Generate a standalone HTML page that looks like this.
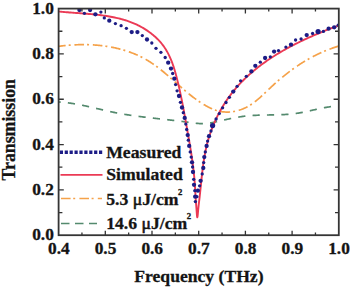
<!DOCTYPE html>
<html><head><meta charset="utf-8"><style>
html,body{margin:0;padding:0;background:#fff;width:350px;height:288px;overflow:hidden}
svg{display:block}
</style></head><body>
<svg width="350" height="288" viewBox="0 0 350 288">
<defs><clipPath id="c"><rect x="58.6" y="8.6" width="280.2" height="226.6"/></clipPath></defs>
<rect width="350" height="288" fill="#fff"/>
<g clip-path="url(#c)" fill="none" stroke-linejoin="round">
<path d="M58.50,101.97 L59.21,102.01 L59.93,102.05 L60.64,102.10 L61.35,102.15 L62.06,102.21 L62.76,102.27 L63.47,102.34 L64.18,102.40 L64.89,102.48 L65.59,102.55 L66.30,102.63 L67.00,102.72 L67.71,102.80 L68.41,102.89 L69.11,102.99 L69.82,103.08 L70.52,103.18 L71.22,103.29 L71.92,103.39 L72.62,103.50 L73.32,103.61 L74.02,103.73 L74.72,103.85 L75.42,103.96 L76.12,104.09 L76.82,104.21 L77.52,104.34 L78.21,104.47 L78.91,104.60 L79.61,104.73 L80.30,104.87 L81.00,105.01 L81.70,105.15 L82.39,105.29 L83.09,105.43 L83.78,105.58 L84.48,105.73 L85.17,105.87 L85.86,106.02 L86.56,106.17 L87.25,106.33 L87.95,106.48 L88.64,106.64 L89.33,106.79 L90.02,106.95 L90.72,107.11 L91.41,107.26 L92.10,107.42 L92.80,107.58 L93.49,107.74 L94.18,107.90 L94.87,108.07 L95.56,108.23 L96.26,108.39 L96.95,108.55 L97.64,108.71 L98.33,108.88 L99.03,109.04 L99.72,109.20 L100.41,109.36 L101.10,109.52 L101.79,109.69 L102.49,109.85 L103.18,110.01 L103.87,110.17 L104.56,110.33 L105.26,110.48 L105.95,110.64 L106.64,110.80 L107.34,110.95 L108.03,111.11 L108.72,111.26 L109.42,111.41 L110.11,111.56 L110.80,111.71 L111.50,111.86 L112.19,112.01 L112.89,112.15 L113.58,112.30 L114.28,112.44 L114.98,112.58 L115.67,112.72 L116.37,112.85 L117.06,112.99 L117.76,113.12 L118.46,113.25 L119.16,113.38 L119.85,113.51 L120.55,113.63 L121.25,113.76 L121.95,113.88 L122.65,114.00 L123.35,114.12 L124.05,114.24 L124.75,114.35 L125.45,114.47 L126.15,114.58 L126.85,114.69 L127.55,114.81 L128.25,114.91 L128.95,115.02 L129.65,115.13 L130.35,115.23 L131.06,115.34 L131.76,115.44 L132.46,115.54 L133.16,115.64 L133.86,115.74 L134.57,115.84 L135.27,115.94 L135.97,116.04 L136.68,116.13 L137.38,116.23 L138.08,116.32 L138.79,116.41 L139.49,116.50 L140.20,116.60 L140.90,116.69 L141.61,116.77 L142.31,116.86 L143.02,116.95 L143.72,117.04 L144.43,117.12 L145.13,117.21 L145.84,117.29 L146.54,117.38 L147.25,117.46 L147.95,117.55 L148.66,117.63 L149.36,117.71 L150.07,117.79 L150.78,117.87 L151.48,117.95 L152.19,118.03 L152.89,118.11 L153.60,118.19 L154.31,118.27 L155.01,118.35 L155.72,118.43 L156.43,118.51 L157.13,118.59 L157.84,118.67 L158.55,118.74 L159.25,118.82 L159.96,118.90 L160.67,118.98 L161.38,119.06 L162.08,119.13 L162.79,119.21 L163.50,119.29 L164.20,119.37 L164.91,119.45 L165.62,119.52 L166.33,119.60 L167.03,119.68 L167.74,119.76 L168.45,119.84 L169.15,119.92 L169.86,120.00 L170.57,120.08 L171.27,120.16 L171.98,120.24 L172.69,120.32 L173.40,120.40 L174.10,120.49 L174.81,120.57 L175.52,120.65 L176.22,120.74 L176.93,120.82 L177.64,120.90 L178.34,120.99 L179.05,121.08 L179.76,121.16 L180.46,121.25 L181.17,121.34 L181.87,121.43 L182.58,121.52 L183.29,121.61 L183.99,121.70 L184.70,121.79 L185.40,121.89 L186.11,121.98 L186.81,122.08 L187.52,122.18 L188.22,122.27 L188.93,122.37 L189.63,122.47 L190.34,122.57 L191.04,122.66 L191.75,122.76 L192.45,122.85 L193.16,122.94 L193.86,123.03 L194.56,123.11 L195.27,123.19 L195.97,123.27 L196.67,123.34 L197.37,123.40 L198.08,123.46 L198.78,123.51 L199.48,123.56 L200.18,123.60 L200.88,123.63 L201.58,123.65 L202.28,123.66 L202.98,123.66 L203.68,123.65 L204.38,123.63 L205.08,123.61 L205.78,123.56 L206.47,123.51 L207.17,123.45 L207.87,123.37 L208.57,123.28 L209.26,123.18 L209.96,123.07 L210.65,122.95 L211.35,122.82 L212.04,122.69 L212.74,122.55 L213.43,122.40 L214.13,122.25 L214.82,122.10 L215.52,121.94 L216.21,121.79 L216.91,121.63 L217.60,121.47 L218.29,121.31 L218.99,121.16 L219.68,121.00 L220.38,120.84 L221.07,120.68 L221.77,120.52 L222.46,120.36 L223.15,120.21 L223.85,120.05 L224.54,119.89 L225.24,119.74 L225.93,119.58 L226.63,119.43 L227.32,119.28 L228.02,119.13 L228.71,118.98 L229.41,118.83 L230.10,118.68 L230.80,118.54 L231.50,118.39 L232.19,118.25 L232.89,118.11 L233.59,117.98 L234.28,117.84 L234.98,117.71 L235.68,117.58 L236.38,117.45 L237.08,117.33 L237.77,117.21 L238.47,117.09 L239.17,116.97 L239.87,116.86 L240.57,116.75 L241.27,116.65 L241.97,116.54 L242.67,116.45 L243.37,116.35 L244.08,116.26 L244.78,116.18 L245.48,116.09 L246.18,116.02 L246.89,115.94 L247.59,115.87 L248.30,115.81 L249.00,115.74 L249.71,115.69 L250.41,115.63 L251.12,115.58 L251.82,115.53 L252.53,115.48 L253.24,115.44 L253.94,115.40 L254.65,115.36 L255.36,115.33 L256.07,115.29 L256.77,115.26 L257.48,115.24 L258.19,115.21 L258.90,115.19 L259.61,115.16 L260.32,115.14 L261.03,115.12 L261.74,115.11 L262.44,115.09 L263.15,115.08 L263.86,115.06 L264.57,115.05 L265.28,115.04 L265.99,115.02 L266.71,115.01 L267.42,115.00 L268.13,114.99 L268.84,114.98 L269.55,114.97 L270.26,114.96 L270.97,114.95 L271.68,114.94 L272.39,114.93 L273.10,114.91 L273.81,114.90 L274.52,114.89 L275.23,114.87 L275.94,114.86 L276.65,114.84 L277.36,114.82 L278.07,114.80 L278.78,114.78 L279.49,114.76 L280.20,114.74 L280.91,114.71 L281.62,114.68 L282.33,114.65 L283.04,114.62 L283.75,114.58 L284.45,114.54 L285.16,114.50 L285.87,114.46 L286.58,114.41 L287.28,114.36 L287.99,114.31 L288.70,114.25 L289.41,114.19 L290.11,114.13 L290.82,114.06 L291.52,113.99 L292.23,113.92 L292.93,113.84 L293.64,113.76 L294.34,113.67 L295.05,113.58 L295.75,113.48 L296.45,113.38 L297.15,113.28 L297.86,113.17 L298.56,113.05 L299.26,112.93 L299.96,112.81 L300.66,112.69 L301.36,112.56 L302.06,112.42 L302.76,112.29 L303.46,112.15 L304.16,112.01 L304.86,111.87 L305.56,111.72 L306.26,111.57 L306.96,111.42 L307.65,111.27 L308.35,111.12 L309.05,110.97 L309.75,110.81 L310.45,110.66 L311.14,110.50 L311.84,110.34 L312.54,110.19 L313.24,110.03 L313.94,109.87 L314.63,109.72 L315.33,109.56 L316.03,109.41 L316.73,109.25 L317.43,109.10 L318.12,108.95 L318.82,108.80 L319.52,108.65 L320.22,108.50 L320.92,108.36 L321.62,108.22 L322.32,108.08 L323.02,107.94 L323.72,107.81 L324.42,107.68 L325.12,107.55 L325.82,107.43 L326.52,107.31 L327.22,107.19 L327.92,107.08 L328.62,106.97 L329.33,106.87 L330.03,106.77 L330.73,106.68 L331.44,106.59 L332.14,106.51 L332.85,106.43 L333.55,106.36 L334.26,106.30 L334.96,106.24 L335.67,106.18 L336.38,106.14 L337.08,106.10 L337.79,106.07 L338.50,106.04" stroke="#548a6e" stroke-width="1.7" stroke-dasharray="7.2 7.2" stroke-dashoffset="5"/>
<path d="M58.62,46.35 L59.40,46.25 L60.17,46.14 L60.95,46.04 L61.73,45.95 L62.51,45.86 L63.29,45.77 L64.08,45.68 L64.86,45.60 L65.65,45.52 L66.44,45.44 L67.23,45.37 L68.02,45.30 L68.81,45.23 L69.60,45.17 L70.40,45.11 L71.19,45.05 L71.99,45.00 L72.79,44.95 L73.59,44.90 L74.38,44.86 L75.18,44.82 L75.99,44.79 L76.79,44.76 L77.59,44.73 L78.39,44.70 L79.20,44.68 L80.00,44.67 L80.81,44.65 L81.61,44.64 L82.42,44.64 L83.22,44.63 L84.03,44.64 L84.84,44.64 L85.64,44.65 L86.45,44.66 L87.26,44.68 L88.07,44.70 L88.88,44.73 L89.68,44.76 L90.49,44.79 L91.30,44.83 L92.11,44.87 L92.92,44.91 L93.72,44.96 L94.53,45.02 L95.34,45.08 L96.14,45.14 L96.95,45.20 L97.76,45.27 L98.56,45.35 L99.37,45.43 L100.17,45.51 L100.98,45.60 L101.78,45.69 L102.58,45.79 L103.38,45.89 L104.19,45.99 L104.99,46.10 L105.79,46.22 L106.58,46.34 L107.38,46.46 L108.18,46.59 L108.97,46.72 L109.77,46.86 L110.56,47.00 L111.35,47.15 L112.15,47.30 L112.94,47.45 L113.72,47.62 L114.51,47.78 L115.30,47.95 L116.08,48.13 L116.86,48.31 L117.65,48.49 L118.43,48.68 L119.20,48.88 L119.98,49.08 L120.75,49.28 L121.53,49.49 L122.30,49.70 L123.07,49.92 L123.84,50.15 L124.60,50.38 L125.36,50.61 L126.13,50.85 L126.89,51.10 L127.64,51.35 L128.40,51.60 L129.15,51.87 L129.90,52.13 L130.65,52.40 L131.40,52.68 L132.14,52.96 L132.88,53.25 L133.62,53.54 L134.36,53.84 L135.09,54.15 L135.82,54.46 L136.55,54.77 L137.28,55.09 L138.00,55.42 L138.72,55.75 L139.44,56.09 L140.15,56.43 L140.86,56.78 L141.57,57.13 L142.28,57.49 L142.98,57.86 L143.68,58.23 L144.37,58.60 L145.07,58.99 L145.76,59.38 L146.44,59.77 L147.13,60.17 L147.81,60.58 L148.48,60.99 L149.16,61.41 L149.83,61.83 L150.49,62.26 L151.16,62.69 L151.82,63.13 L152.48,63.58 L153.13,64.02 L153.78,64.48 L154.44,64.94 L155.08,65.40 L155.73,65.87 L156.37,66.34 L157.01,66.81 L157.65,67.29 L158.29,67.77 L158.92,68.26 L159.55,68.75 L160.18,69.24 L160.81,69.74 L161.44,70.24 L162.06,70.74 L162.69,71.25 L163.31,71.76 L163.93,72.27 L164.55,72.78 L165.17,73.30 L165.78,73.82 L166.40,74.34 L167.01,74.86 L167.63,75.39 L168.24,75.92 L168.85,76.44 L169.46,76.97 L170.07,77.51 L170.68,78.04 L171.29,78.57 L171.90,79.11 L172.51,79.64 L173.11,80.18 L173.72,80.71 L174.33,81.25 L174.93,81.79 L175.54,82.33 L176.15,82.87 L176.76,83.40 L177.36,83.94 L177.97,84.48 L178.58,85.02 L179.19,85.55 L179.80,86.09 L180.41,86.63 L181.02,87.16 L181.63,87.69 L182.24,88.23 L182.85,88.76 L183.46,89.29 L184.08,89.81 L184.69,90.34 L185.31,90.86 L185.93,91.39 L186.55,91.91 L187.17,92.43 L187.79,92.94 L188.42,93.45 L189.04,93.97 L189.67,94.47 L190.30,94.98 L190.93,95.48 L191.56,95.98 L192.20,96.48 L192.84,96.97 L193.47,97.46 L194.12,97.94 L194.76,98.43 L195.41,98.90 L196.06,99.38 L196.71,99.85 L197.37,100.31 L198.03,100.77 L198.69,101.23 L199.36,101.68 L200.03,102.13 L200.70,102.57 L201.38,103.00 L202.06,103.43 L202.74,103.86 L203.43,104.28 L204.12,104.69 L204.82,105.10 L205.52,105.50 L206.23,105.90 L206.94,106.29 L207.65,106.67 L208.37,107.05 L209.10,107.41 L209.82,107.77 L210.56,108.11 L211.29,108.45 L212.03,108.78 L212.77,109.09 L213.52,109.39 L214.27,109.68 L215.02,109.95 L215.78,110.21 L216.54,110.45 L217.30,110.68 L218.07,110.89 L218.83,111.09 L219.60,111.26 L220.38,111.42 L221.15,111.56 L221.93,111.69 L222.71,111.79 L223.49,111.88 L224.27,111.95 L225.05,112.01 L225.83,112.04 L226.62,112.06 L227.40,112.07 L228.18,112.05 L228.97,112.03 L229.75,111.98 L230.53,111.92 L231.31,111.85 L232.09,111.75 L232.87,111.65 L233.65,111.52 L234.42,111.39 L235.19,111.24 L235.96,111.07 L236.73,110.89 L237.50,110.69 L238.26,110.48 L239.01,110.26 L239.77,110.02 L240.52,109.77 L241.26,109.51 L242.00,109.23 L242.74,108.94 L243.47,108.64 L244.20,108.32 L244.92,107.99 L245.64,107.65 L246.35,107.30 L247.05,106.93 L247.75,106.55 L248.44,106.16 L249.12,105.76 L249.80,105.35 L250.47,104.93 L251.14,104.49 L251.80,104.05 L252.45,103.60 L253.10,103.14 L253.75,102.67 L254.39,102.19 L255.02,101.70 L255.65,101.21 L256.28,100.70 L256.90,100.20 L257.52,99.68 L258.14,99.16 L258.75,98.63 L259.36,98.10 L259.97,97.56 L260.57,97.02 L261.17,96.48 L261.77,95.93 L262.37,95.38 L262.96,94.82 L263.56,94.26 L264.15,93.70 L264.74,93.14 L265.33,92.58 L265.93,92.01 L266.52,91.45 L267.11,90.88 L267.70,90.32 L268.29,89.75 L268.88,89.19 L269.47,88.63 L270.06,88.07 L270.65,87.51 L271.25,86.95 L271.84,86.40 L272.44,85.84 L273.04,85.29 L273.64,84.75 L274.24,84.20 L274.84,83.66 L275.45,83.12 L276.05,82.58 L276.66,82.04 L277.27,81.51 L277.87,80.98 L278.48,80.45 L279.10,79.93 L279.71,79.40 L280.32,78.88 L280.94,78.36 L281.56,77.85 L282.18,77.33 L282.80,76.82 L283.42,76.31 L284.04,75.81 L284.67,75.31 L285.29,74.81 L285.92,74.31 L286.55,73.81 L287.18,73.32 L287.82,72.83 L288.45,72.35 L289.09,71.86 L289.73,71.38 L290.36,70.90 L291.01,70.43 L291.65,69.96 L292.29,69.49 L292.94,69.02 L293.59,68.56 L294.24,68.10 L294.89,67.64 L295.54,67.18 L296.20,66.73 L296.85,66.28 L297.51,65.84 L298.17,65.39 L298.84,64.95 L299.50,64.52 L300.17,64.09 L300.84,63.65 L301.51,63.23 L302.18,62.80 L302.85,62.38 L303.53,61.97 L304.21,61.55 L304.89,61.14 L305.57,60.73 L306.25,60.33 L306.94,59.93 L307.63,59.53 L308.32,59.14 L309.01,58.75 L309.70,58.36 L310.40,57.98 L311.10,57.60 L311.80,57.22 L312.50,56.84 L313.21,56.47 L313.91,56.11 L314.62,55.75 L315.33,55.39 L316.05,55.03 L316.76,54.68 L317.48,54.33 L318.20,53.99 L318.92,53.64 L319.65,53.31 L320.38,52.97 L321.11,52.64 L321.84,52.32 L322.57,51.99 L323.31,51.68 L324.05,51.36 L324.79,51.05 L325.54,50.74 L326.28,50.44 L327.03,50.14 L327.78,49.84 L328.54,49.55 L329.29,49.27 L330.05,48.98 L330.81,48.70 L331.58,48.43 L332.34,48.15 L333.11,47.89 L333.88,47.62 L334.66,47.36 L335.43,47.11 L336.21,46.86 L337.00,46.61 L337.78,46.37 L338.57,46.13" stroke="#f5a24a" stroke-width="1.7" stroke-dasharray="9.6 3 2 3.8" stroke-dashoffset="2.5"/>
<path d="M58.57,11.42 L59.89,11.57 L61.22,11.70 L62.55,11.84 L63.89,11.96 L65.24,12.08 L66.59,12.20 L67.94,12.32 L69.29,12.43 L70.66,12.54 L72.02,12.64 L73.39,12.75 L74.76,12.85 L76.13,12.95 L77.51,13.06 L78.89,13.16 L80.27,13.26 L81.65,13.37 L83.03,13.47 L84.42,13.58 L85.81,13.69 L87.19,13.81 L88.58,13.93 L89.97,14.05 L91.36,14.17 L92.75,14.31 L94.13,14.44 L95.52,14.59 L96.91,14.74 L98.29,14.90 L99.68,15.06 L101.06,15.23 L102.44,15.41 L103.82,15.61 L105.19,15.81 L106.57,16.02 L107.94,16.24 L109.31,16.47 L110.67,16.71 L112.03,16.97 L113.39,17.23 L114.74,17.51 L116.09,17.81 L117.43,18.11 L118.77,18.44 L120.11,18.77 L121.43,19.13 L122.76,19.49 L124.07,19.88 L125.39,20.28 L126.69,20.70 L127.99,21.13 L129.28,21.59 L130.57,22.06 L131.84,22.55 L133.11,23.07 L134.37,23.60 L135.63,24.15 L136.87,24.73 L138.11,25.32 L139.34,25.94 L140.56,26.58 L141.76,27.24 L142.96,27.92 L144.14,28.63 L145.32,29.35 L146.48,30.10 L147.62,30.87 L148.75,31.66 L149.86,32.47 L150.96,33.30 L152.04,34.15 L153.11,35.02 L154.15,35.91 L155.18,36.82 L156.18,37.75 L157.17,38.71 L158.13,39.68 L159.07,40.67 L159.99,41.68 L160.89,42.71 L161.76,43.76 L162.61,44.83 L163.43,45.92 L164.22,47.03 L164.99,48.16 L165.73,49.30 L166.44,50.47 L167.13,51.65 L167.79,52.85 L168.43,54.07 L169.04,55.30 L169.63,56.54 L170.19,57.80 L170.74,59.07 L171.27,60.35 L171.77,61.64 L172.26,62.94 L172.73,64.25 L173.19,65.57 L173.63,66.90 L174.05,68.23 L174.47,69.57 L174.87,70.91 L175.25,72.26 L175.63,73.61 L176.00,74.96 L176.36,76.31 L176.71,77.67 L177.05,79.02 L177.39,80.37 L177.73,81.72 L178.05,83.07 L178.37,84.42 L178.69,85.77 L179.00,87.12 L179.31,88.46 L179.61,89.81 L179.90,91.15 L180.20,92.50 L180.48,93.84 L180.77,95.19 L181.05,96.53 L181.32,97.87 L181.60,99.22 L181.87,100.56 L182.13,101.90 L182.39,103.24 L182.65,104.58 L182.91,105.93 L183.17,107.27 L183.42,108.61 L183.67,109.95 L183.92,111.29 L184.16,112.64 L184.41,113.98 L184.65,115.32 L184.90,116.67 L185.14,118.01 L185.38,119.36 L185.62,120.70 L185.86,122.05 L186.10,123.39 L186.34,124.74 L186.58,126.09 L186.81,127.44 L187.05,128.79 L187.29,130.14 L187.53,131.49 L187.77,132.85 L188.01,134.20 L188.25,135.56 L188.49,136.91 L188.73,138.27 L188.96,139.63 L189.20,140.99 L189.43,142.35 L189.66,143.71 L189.89,145.07 L190.12,146.44 L190.34,147.80 L190.56,149.17 L190.78,150.53 L191.00,151.90 L191.22,153.27 L191.43,154.64 L191.63,156.01 L191.84,157.38 L192.04,158.76 L192.24,160.13 L192.43,161.51 L192.62,162.88 L192.80,164.26 L192.98,165.64 L193.15,167.02 L193.32,168.40 L193.49,169.78 L193.64,171.16 L193.80,172.55 L193.94,173.93 L194.08,175.32 L194.22,176.71 L194.35,178.10 L194.47,179.48 L194.58,180.88 L194.69,182.27 L194.79,183.66 L194.89,185.05 L194.98,186.44 L195.07,187.82 L195.15,189.20 L195.23,190.57 L195.31,191.93 L195.39,193.29 L195.47,194.63 L195.55,195.96 L195.63,197.28 L195.71,198.58 L195.80,199.86 L195.89,201.13 L195.98,202.40 L196.08,203.69 L196.18,205.03 L196.29,206.42 L196.40,207.91 L196.51,209.49 L196.63,211.20 L196.76,212.98 L196.89,214.67 L197.03,216.08 L197.17,217.02 L197.32,217.31 L197.47,216.86 L197.62,215.80 L197.78,214.32 L197.93,212.59 L198.09,210.81 L198.25,209.13 L198.41,207.58 L198.56,206.12 L198.72,204.74 L198.88,203.42 L199.03,202.15 L199.18,200.89 L199.33,199.62 L199.48,198.34 L199.63,197.05 L199.78,195.74 L199.92,194.42 L200.06,193.08 L200.21,191.73 L200.35,190.37 L200.49,189.00 L200.63,187.63 L200.78,186.24 L200.92,184.85 L201.06,183.46 L201.21,182.06 L201.35,180.65 L201.50,179.25 L201.65,177.85 L201.80,176.44 L201.95,175.04 L202.11,173.64 L202.27,172.25 L202.43,170.86 L202.59,169.47 L202.76,168.09 L202.94,166.72 L203.12,165.35 L203.30,163.98 L203.49,162.62 L203.69,161.26 L203.89,159.90 L204.11,158.55 L204.33,157.20 L204.56,155.86 L204.80,154.52 L205.05,153.18 L205.31,151.84 L205.58,150.50 L205.86,149.17 L206.16,147.84 L206.47,146.51 L206.79,145.18 L207.12,143.85 L207.47,142.52 L207.83,141.20 L208.21,139.88 L208.60,138.56 L209.00,137.24 L209.41,135.93 L209.84,134.61 L210.28,133.30 L210.74,132.00 L211.20,130.70 L211.68,129.40 L212.18,128.10 L212.68,126.81 L213.20,125.53 L213.73,124.25 L214.27,122.97 L214.83,121.70 L215.40,120.43 L215.98,119.17 L216.57,117.92 L217.17,116.67 L217.79,115.43 L218.42,114.19 L219.06,112.96 L219.71,111.74 L220.38,110.52 L221.06,109.31 L221.74,108.11 L222.44,106.92 L223.16,105.73 L223.88,104.56 L224.62,103.39 L225.36,102.22 L226.12,101.07 L226.89,99.93 L227.67,98.80 L228.47,97.67 L229.27,96.56 L230.09,95.45 L230.91,94.35 L231.75,93.27 L232.60,92.19 L233.46,91.13 L234.32,90.07 L235.20,89.02 L236.09,87.98 L236.99,86.95 L237.90,85.93 L238.82,84.92 L239.75,83.92 L240.69,82.92 L241.64,81.94 L242.59,80.97 L243.56,80.00 L244.54,79.04 L245.52,78.09 L246.51,77.15 L247.51,76.22 L248.52,75.30 L249.54,74.38 L250.57,73.47 L251.60,72.58 L252.65,71.69 L253.70,70.80 L254.75,69.93 L255.82,69.06 L256.89,68.21 L257.97,67.36 L259.06,66.52 L260.15,65.68 L261.25,64.85 L262.36,64.04 L263.47,63.22 L264.59,62.42 L265.72,61.63 L266.85,60.84 L267.99,60.06 L269.13,59.28 L270.28,58.51 L271.44,57.75 L272.60,57.00 L273.77,56.26 L274.94,55.52 L276.12,54.79 L277.30,54.06 L278.48,53.34 L279.67,52.63 L280.87,51.93 L282.07,51.23 L283.27,50.54 L284.48,49.85 L285.69,49.17 L286.91,48.50 L288.13,47.84 L289.35,47.18 L290.57,46.52 L291.80,45.87 L293.04,45.23 L294.27,44.60 L295.51,43.97 L296.75,43.34 L297.99,42.73 L299.24,42.11 L300.49,41.51 L301.74,40.91 L302.99,40.31 L304.24,39.72 L305.50,39.13 L306.76,38.55 L308.02,37.98 L309.28,37.41 L310.54,36.85 L311.80,36.29 L313.06,35.73 L314.33,35.19 L315.59,34.64 L316.86,34.10 L318.12,33.57 L319.39,33.04 L320.65,32.51 L321.92,31.99 L323.19,31.48 L324.45,30.97 L325.72,30.46 L326.98,29.95 L328.24,29.46 L329.51,28.96 L330.77,28.47 L332.03,27.99 L333.29,27.50 L334.55,27.02 L335.80,26.55 L337.06,26.08 L338.31,25.61" stroke="#eb3a55" stroke-width="1.9"/>
<g fill="#1c1c86" stroke="none"><circle cx="79.4" cy="10.0" r="2.15"/><circle cx="84.4" cy="13.3" r="1.65"/><circle cx="90.1" cy="10.0" r="2.15"/><circle cx="95.4" cy="14.3" r="2.15"/><circle cx="100.9" cy="12.1" r="1.65"/><circle cx="104.3" cy="17.9" r="1.65"/><circle cx="109.3" cy="20.7" r="2.15"/><circle cx="115.4" cy="23.6" r="1.65"/><circle cx="121.1" cy="25.7" r="1.65"/><circle cx="126.4" cy="28.3" r="1.65"/><circle cx="131.7" cy="32.1" r="2.15"/><circle cx="137.4" cy="32.1" r="2.15"/><circle cx="142.3" cy="35.6" r="1.65"/><circle cx="147.0" cy="39.5" r="2.15"/><circle cx="151.8" cy="43.0" r="1.65"/><circle cx="156.0" cy="48.3" r="1.65"/><circle cx="160.9" cy="52.3" r="1.65"/><circle cx="165.2" cy="57.5" r="1.65"/><circle cx="168.2" cy="62.7" r="2.15"/><circle cx="171.0" cy="68.6" r="2.15"/><circle cx="172.7" cy="73.5" r="1.65"/><circle cx="174.3" cy="78.7" r="2.15"/><circle cx="175.6" cy="84.6" r="1.65"/><circle cx="177.1" cy="90.8" r="1.65"/><circle cx="179.0" cy="96.0" r="2.15"/><circle cx="180.4" cy="102.3" r="1.65"/><circle cx="182.0" cy="107.5" r="2.15"/><circle cx="183.3" cy="112.7" r="1.65"/><circle cx="184.7" cy="117.9" r="2.15"/><circle cx="185.8" cy="124.1" r="1.65"/><circle cx="186.7" cy="129.5" r="1.65"/><circle cx="187.7" cy="135.1" r="2.15"/><circle cx="188.3" cy="140.2" r="1.65"/><circle cx="189.2" cy="145.9" r="2.15"/><circle cx="190.2" cy="151.9" r="1.65"/><circle cx="191.2" cy="157.1" r="1.65"/><circle cx="192.0" cy="162.3" r="2.15"/><circle cx="192.6" cy="167.0" r="1.65"/><circle cx="193.0" cy="172.0" r="2.15"/><circle cx="193.7" cy="179.3" r="1.65"/><circle cx="194.0" cy="184.8" r="2.15"/><circle cx="194.8" cy="190.7" r="1.65"/><circle cx="195.2" cy="196.7" r="2.15"/><circle cx="195.4" cy="201.6" r="1.65"/><circle cx="196.9" cy="196.7" r="1.65"/><circle cx="197.9" cy="190.7" r="2.15"/><circle cx="199.6" cy="185.8" r="1.65"/><circle cx="200.6" cy="180.8" r="2.15"/><circle cx="202.2" cy="173.9" r="1.65"/><circle cx="203.3" cy="168.0" r="2.15"/><circle cx="203.7" cy="162.6" r="1.65"/><circle cx="204.3" cy="157.1" r="2.15"/><circle cx="205.3" cy="151.9" r="1.65"/><circle cx="206.6" cy="146.0" r="2.15"/><circle cx="207.6" cy="141.1" r="1.65"/><circle cx="209.0" cy="136.2" r="2.15"/><circle cx="211.0" cy="131.0" r="1.65"/><circle cx="212.6" cy="125.6" r="2.60"/><circle cx="216.1" cy="119.0" r="1.65"/><circle cx="219.3" cy="113.6" r="1.65"/><circle cx="222.6" cy="107.8" r="1.65"/><circle cx="226.0" cy="102.5" r="1.65"/><circle cx="229.4" cy="97.3" r="1.65"/><circle cx="233.3" cy="91.6" r="2.15"/><circle cx="237.1" cy="86.3" r="1.65"/><circle cx="240.6" cy="80.8" r="1.65"/><circle cx="246.3" cy="76.3" r="1.65"/><circle cx="251.4" cy="71.4" r="2.15"/><circle cx="255.3" cy="65.8" r="2.15"/><circle cx="260.3" cy="62.2" r="1.65"/><circle cx="265.1" cy="58.0" r="2.15"/><circle cx="270.3" cy="56.8" r="1.65"/><circle cx="274.1" cy="51.6" r="2.15"/><circle cx="278.5" cy="50.6" r="1.65"/><circle cx="285.9" cy="47.1" r="1.65"/><circle cx="291.0" cy="44.7" r="2.15"/><circle cx="295.6" cy="40.0" r="1.65"/><circle cx="301.1" cy="39.0" r="1.65"/><circle cx="306.7" cy="35.1" r="2.15"/><circle cx="312.6" cy="33.5" r="1.65"/><circle cx="318.1" cy="31.6" r="2.60"/><circle cx="323.4" cy="31.4" r="1.65"/><circle cx="328.6" cy="28.7" r="2.15"/><circle cx="334.2" cy="27.3" r="2.15"/><circle cx="338.2" cy="25.2" r="1.65"/></g>
</g>
<g fill="none" stroke-width="1.6">
<path d="M59.8,152.3H103.6" stroke="#1c1c86" stroke-width="3.4" stroke-dasharray="3.2 1.7"/>
<path d="M60.5,174.8H102.5" stroke="#eb3a55" stroke-width="1.7"/>
<path d="M61,198.4H102" stroke="#f5a24a" stroke-width="1.5" stroke-dasharray="9.6 2.6 2 4.2"/>
<path d="M61,223.5H97" stroke="#548a6e" stroke-width="1.5" stroke-dasharray="8.5 5.5"/>
</g>
<g stroke="#333" stroke-width="1.3" fill="none"><path d="M81.95,235.20V232.60 M81.95,8.60V11.50 M105.30,235.20V230.70 M105.30,8.60V13.40 M128.65,235.20V232.60 M128.65,8.60V11.50 M152.00,235.20V230.70 M152.00,8.60V13.40 M175.35,235.20V232.60 M175.35,8.60V11.50 M198.70,235.20V230.70 M198.70,8.60V13.40 M222.05,235.20V232.60 M222.05,8.60V11.50 M245.40,235.20V230.70 M245.40,8.60V13.40 M268.75,235.20V232.60 M268.75,8.60V11.50 M292.10,235.20V230.70 M292.10,8.60V13.40 M315.45,235.20V232.60 M315.45,8.60V11.50 M58.60,212.54H62.40 M338.80,212.54H335.00 M58.60,189.88H63.80 M338.80,189.88H333.60 M58.60,167.22H62.40 M338.80,167.22H335.00 M58.60,144.56H63.80 M338.80,144.56H333.60 M58.60,121.90H62.40 M338.80,121.90H335.00 M58.60,99.24H63.80 M338.80,99.24H333.60 M58.60,76.58H62.40 M338.80,76.58H335.00 M58.60,53.92H63.80 M338.80,53.92H333.60 M58.60,31.26H62.40 M338.80,31.26H335.00"/></g>
<rect x="58.6" y="8.6" width="280.2" height="226.6" fill="none" stroke="#353535" stroke-width="1.8"/>
<g fill="#141414" stroke="#141414" stroke-width="0.3">
<text transform="translate(53.80,240.30) scale(1.020,1)" text-anchor="end" font-size="17" font-family="Liberation Serif, serif" font-weight="bold" >0.0</text>
<text transform="translate(53.80,194.98) scale(1.020,1)" text-anchor="end" font-size="17" font-family="Liberation Serif, serif" font-weight="bold" >0.2</text>
<text transform="translate(53.80,149.66) scale(1.020,1)" text-anchor="end" font-size="17" font-family="Liberation Serif, serif" font-weight="bold" >0.4</text>
<text transform="translate(53.80,104.34) scale(1.020,1)" text-anchor="end" font-size="17" font-family="Liberation Serif, serif" font-weight="bold" >0.6</text>
<text transform="translate(53.80,59.02) scale(1.020,1)" text-anchor="end" font-size="17" font-family="Liberation Serif, serif" font-weight="bold" >0.8</text>
<text transform="translate(53.80,13.70) scale(1.020,1)" text-anchor="end" font-size="17" font-family="Liberation Serif, serif" font-weight="bold" >1.0</text>
<text transform="translate(58.80,254.00) scale(1.020,1)" text-anchor="middle" font-size="17" font-family="Liberation Serif, serif" font-weight="bold" >0.4</text>
<text transform="translate(105.50,254.00) scale(1.020,1)" text-anchor="middle" font-size="17" font-family="Liberation Serif, serif" font-weight="bold" >0.5</text>
<text transform="translate(152.20,254.00) scale(1.020,1)" text-anchor="middle" font-size="17" font-family="Liberation Serif, serif" font-weight="bold" >0.6</text>
<text transform="translate(198.90,254.00) scale(1.020,1)" text-anchor="middle" font-size="17" font-family="Liberation Serif, serif" font-weight="bold" >0.7</text>
<text transform="translate(245.60,254.00) scale(1.020,1)" text-anchor="middle" font-size="17" font-family="Liberation Serif, serif" font-weight="bold" >0.8</text>
<text transform="translate(292.30,254.00) scale(1.020,1)" text-anchor="middle" font-size="17" font-family="Liberation Serif, serif" font-weight="bold" >0.9</text>
<text transform="translate(339.00,254.00) scale(1.020,1)" text-anchor="middle" font-size="17" font-family="Liberation Serif, serif" font-weight="bold" >1.0</text>
<text transform="translate(198.90,282.30) scale(1.012,1)" text-anchor="middle" font-size="17.4" font-family="Liberation Serif, serif" font-weight="bold" >Frequency (THz)</text>
<text transform="translate(15.1,129.8) rotate(-90) scale(1.0,1)" text-anchor="middle" font-size="17.8" font-family="Liberation Serif, serif" font-weight="bold">Transmission</text>
<text transform="translate(106.20,158.40) scale(1.010,1)" text-anchor="start" font-size="17.5" font-family="Liberation Serif, serif" font-weight="bold" >Measured</text>
<text transform="translate(106.20,180.20) scale(1.010,1)" text-anchor="start" font-size="17.5" font-family="Liberation Serif, serif" font-weight="bold" >Simulated</text>
<text transform="translate(106.20,204.60) scale(1.010,1)" text-anchor="start" font-size="17.5" font-family="Liberation Serif, serif" font-weight="bold" >5.3 <tspan font-weight="normal" stroke-width="0.6">&#956;</tspan>J/cm<tspan font-size="8.6" dx="-0.5" dy="-10">2</tspan></text>
<text transform="translate(106.20,229.40) scale(1.010,1)" text-anchor="start" font-size="17.5" font-family="Liberation Serif, serif" font-weight="bold" >14.6 <tspan font-weight="normal" stroke-width="0.6">&#956;</tspan>J/cm<tspan font-size="8.6" dx="-0.5" dy="-10">2</tspan></text>
</g>
</svg>
</body></html>
